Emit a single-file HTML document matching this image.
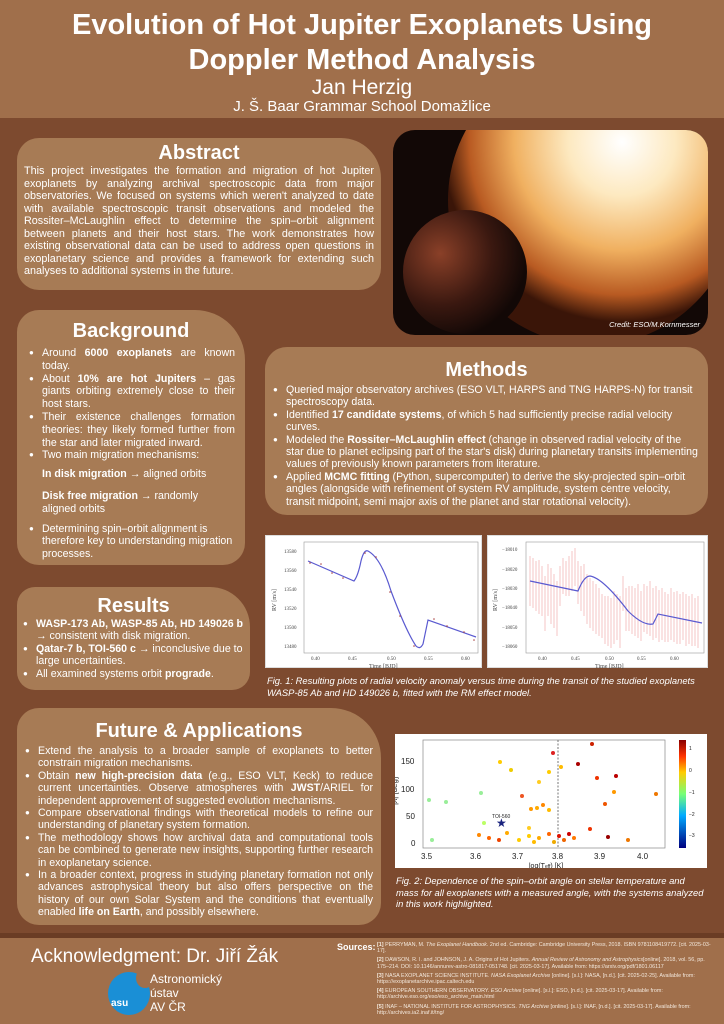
<!DOCTYPE html>
<html><head><meta charset="utf-8">
<style>
*{margin:0;padding:0;box-sizing:border-box}
body{width:724px;height:1024px;background:#7d4a2f;font-family:"Liberation Sans",sans-serif;color:#fff;position:relative;overflow:hidden}
.abs{position:absolute}
.panel{position:absolute;background:#a77b55;border-radius:22px}
h2{font-size:20px;font-weight:bold;text-align:center;color:#fff}
.txt{font-size:10.6px;line-height:12.4px;color:#fff}
ul{list-style:none}
li{position:relative;padding-left:13px}
li:before{content:"●";position:absolute;left:0;top:0;font-size:8px}
.cap{font-size:9.4px;font-style:italic;line-height:11.5px;color:#fff}
.src{font-size:5.4px;line-height:6.2px;color:#f3e8dc}
.bg{font-size:10.6px;line-height:12.8px}
</style></head><body>
<div class="abs" style="left:0;top:0;width:724px;height:118px;background:#a06f4b"></div>
<div class="abs" style="left:0;top:8px;width:724px;text-align:center;font-size:29px;font-weight:bold;line-height:35px;color:#fff">Evolution of Hot Jupiter Exoplanets Using<br>Doppler Method Analysis</div>
<div class="abs" style="left:0;top:76px;width:724px;text-align:center;font-size:21px;color:#fff">Jan Herzig</div>
<div class="abs" style="left:0;top:98px;width:724px;text-align:center;font-size:15px;color:#fff">J. Š. Baar Grammar School Domažlice</div>

<div class="panel" style="left:17px;top:138px;width:364px;height:152px;border-radius:22px 40px 22px 22px">
<h2 style="margin-top:4px">Abstract</h2>
<div class="txt" style="padding:0 7px;text-align:justify;font-size:10.8px;line-height:12.5px">This project investigates the formation and migration of hot Jupiter exoplanets by analyzing archival spectroscopic data from major observatories. We focused on systems which weren't analyzed to date with available spectroscopic transit observations and modeled the Rossiter–McLaughlin effect to determine the spin–orbit alignment between planets and their host stars. The work demonstrates how existing observational data can be used to address open questions in exoplanetary science and provides a framework for extending such analyses to additional systems in the future.</div>
</div>

<div class="abs" style="left:393px;top:130px;width:315px;height:205px;border-radius:22px;overflow:hidden;background:#120806">
<svg width="315" height="205">
<defs>
<radialGradient id="sun" cx="0.6" cy="0.3" r="0.62"><stop offset="0" stop-color="#ffffff"/><stop offset="0.3" stop-color="#fde9c0"/><stop offset="0.6" stop-color="#f0b060"/><stop offset="0.85" stop-color="#b85a22"/><stop offset="1" stop-color="#3a1508"/></radialGradient>
<radialGradient id="pl" cx="0.3" cy="0.35" r="0.7"><stop offset="0" stop-color="#8a4028"/><stop offset="0.6" stop-color="#3a1810"/><stop offset="1" stop-color="#120806"/></radialGradient>
</defs>
<circle cx="200" cy="70" r="145" fill="url(#sun)"/>
<circle cx="72" cy="142" r="62" fill="url(#pl)"/>
</svg>
<div class="abs" style="right:8px;bottom:6px;font-size:7.5px;font-style:italic;color:#fff">Credit: ESO/M.Kornmesser</div>
</div>

<div class="panel" style="left:17px;top:310px;width:228px;height:255px;border-radius:22px 50px 22px 22px">
<h2 style="margin-top:10px">Background</h2>
<ul class="txt bg" style="padding:4px 10px 0 12px;text-align:justify">
<li>Around <b>6000 exoplanets</b> are known today.</li>
<li>About <b>10% are hot Jupiters</b> – gas giants orbiting extremely close to their host stars.</li>
<li>Their existence challenges formation theories: they likely formed further from the star and later migrated inward.</li>
<li>Two main migration mechanisms:</li>
</ul>
<div class="txt bg" style="padding:6px 10px 0 25px"><b>In disk migration</b> → aligned orbits</div>
<div class="txt bg" style="padding:9px 10px 0 25px"><b>Disk free migration</b> → randomly aligned orbits</div>
<ul class="txt bg" style="padding:7px 8px 0 12px"><li>Determining spin–orbit alignment is therefore key to understanding migration processes.</li></ul>
</div>

<div class="panel" style="left:265px;top:347px;width:443px;height:168px;border-radius:22px">
<h2 style="margin-top:12px">Methods</h2>
<ul class="txt" style="padding:2px 8px 0 8px">
<li>Queried major observatory archives (ESO VLT, HARPS and TNG HARPS-N) for transit spectroscopy data.</li>
<li>Identified <b>17 candidate systems</b>, of which 5 had sufficiently precise radial velocity curves.</li>
<li>Modeled the <b>Rossiter–McLaughlin effect</b> (change in observed radial velocity of the star due to planet eclipsing part of the star's disk) during planetary transits implementing values of previously known parameters from literature.</li>
<li>Applied <b>MCMC fitting</b> (Python, supercomputer) to derive the sky-projected spin–orbit angles (alongside with refinement of system RV amplitude, system centre velocity, transit midpoint, semi major axis of the planet and star rotational velocity).</li>
</ul>
</div>

<div class="abs" style="left:265px;top:535px;width:217px;height:133px;background:#fff;border:1px solid #ddd">
<svg width="217" height="133" font-family="Liberation Serif" font-size="5">
<rect x="38" y="6" width="174" height="111" fill="none" stroke="#999" stroke-width="0.6"/>
<g fill="#444"><text x="18" y="17">13580</text><text x="18" y="36">13560</text><text x="18" y="55">13540</text><text x="18" y="74">13520</text><text x="18" y="93">13500</text><text x="18" y="112">13480</text>
<text x="45" y="124">0.40</text><text x="82" y="124">0.45</text><text x="121" y="124">0.50</text><text x="158" y="124">0.55</text><text x="195" y="124">0.60</text>
<text x="103" y="132" font-size="6">Time [BJD]</text>
<text x="10" y="75" font-size="6" transform="rotate(-90 10 75)">RV [m/s]</text></g>
<path d="M42 25 L88 45 Q92 40 95 25 Q98 13 102 15 Q115 22 125 55 Q140 95 150 110 Q154 114 157 108 L162 84 L210 101" fill="none" stroke="#5a5ad0" stroke-width="1.2"/>
<g fill="#a44"><circle cx="44" cy="27" r="0.8"/><circle cx="55" cy="28" r="0.8"/><circle cx="66" cy="37" r="0.8"/><circle cx="77" cy="42" r="0.8"/><circle cx="99" cy="17" r="0.8"/><circle cx="110" cy="21" r="0.8"/><circle cx="124" cy="56" r="0.8"/><circle cx="134" cy="80" r="0.8"/><circle cx="148" cy="110" r="0.8"/><circle cx="168" cy="83" r="0.8"/><circle cx="181" cy="90" r="0.8"/><circle cx="198" cy="96" r="0.8"/><circle cx="208" cy="104" r="0.8"/></g>
</svg></div>
<div class="abs" style="left:487px;top:535px;width:221px;height:133px;background:#fff;border:1px solid #ddd">
<svg width="221" height="133" font-family="Liberation Serif" font-size="5">
<rect x="38" y="6" width="178" height="111" fill="none" stroke="#999" stroke-width="0.6"/>
<g fill="#444"><text x="14" y="15">−18010</text><text x="14" y="35">−18020</text><text x="14" y="54">−18030</text><text x="14" y="73">−18040</text><text x="14" y="93">−18050</text><text x="14" y="112">−18060</text>
<text x="50" y="124">0.40</text><text x="83" y="124">0.45</text><text x="117" y="124">0.50</text><text x="149" y="124">0.55</text><text x="182" y="124">0.60</text>
<text x="107" y="132" font-size="6">Time [BJD]</text>
<text x="9" y="75" font-size="6" transform="rotate(-90 9 75)">RV [m/s]</text></g>
<g stroke="#f0a0a0" stroke-width="0.6">
<path d="M42 20V70M45 22V72M48 25V75M51 24V78M54 30V80M57 40V95M60 28V80M63 32V88M66 38V92M69 45V100M72 30V70M75 22V58M78 25V60M81 20V60M84 15V55M87 12V50M90 25V68M93 30V75M96 28V80M99 38V88M102 42V92M105 45V95M108 48V98M111 52V100M114 58V102M117 60V108M120 60V110M123 62V112M126 55V108M129 58V104M132 60V112M135 40V75M138 52V95M141 50V95M144 50V98M147 52V100M150 48V102M153 55V105M156 48V96M159 50V98M162 45V100M165 52V104M168 50V102M171 54V106M174 52V104M177 56V106M180 58V106M183 52V104M186 56V106M189 55V108M192 58V108M195 56V104M198 58V110M201 60V108M204 58V110M207 62V110M210 60V112"/></g>
<path d="M42 45 L90 55 Q96 40 102 40 Q115 42 140 75 Q155 90 165 88 L170 78 L214 87" fill="none" stroke="#5a5ad0" stroke-width="1.2"/>
</svg></div>
<div class="abs cap" style="left:267px;top:675px;width:440px">Fig. 1: Resulting plots of radial velocity anomaly versus time during the transit of the studied exoplanets WASP-85 Ab and HD 149026 b, fitted with the RM effect model.</div>

<div class="panel" style="left:17px;top:587px;width:233px;height:103px;border-radius:18px 40px 18px 18px">
<h2 style="margin-top:8px">Results</h2>
<ul class="txt" style="padding:0 6px">
<li><b>WASP-173 Ab, WASP-85 Ab, HD 149026 b</b> → consistent with disk migration.</li>
<li><b>Qatar-7 b, TOI-560 c</b> → inconclusive due to large uncertainties.</li>
<li>All examined systems orbit <b>prograde</b>.</li>
</ul>
</div>

<div class="panel" style="left:17px;top:708px;width:364px;height:217px;border-radius:22px 50px 22px 22px">
<h2 style="margin-top:12px">Future &amp; Applications</h2>
<ul class="txt" style="padding:2px 8px 0 8px;text-align:justify">
<li>Extend the analysis to a broader sample of exoplanets to better constrain migration mechanisms.</li>
<li>Obtain <b>new high-precision data</b> (e.g., ESO VLT, Keck) to reduce current uncertainties. Observe atmospheres with <b>JWST</b>/ARIEL for independent approvement of suggested evolution mechanisms.</li>
<li>Compare observational findings with theoretical models to refine our understanding of planetary system formation.</li>
<li>The methodology shows how archival data and computational tools can be combined to generate new insights, supporting further research in exoplanetary science.</li>
<li>In a broader context, progress in studying planetary formation not only advances astrophysical theory but also offers perspective on the history of our own Solar System and the conditions that eventually enabled <b>life on Earth</b>, and possibly elsewhere.</li>
</ul>
</div>

<div class="abs" style="left:395px;top:734px;width:312px;height:134px;background:#fff">
<svg width="312" height="134" font-family="Liberation Sans" font-size="8" fill="#222">
<defs><linearGradient id="cb" x1="0" y1="1" x2="0" y2="0"><stop offset="0" stop-color="#00007f"/><stop offset="0.3" stop-color="#0af"/><stop offset="0.5" stop-color="#7f7"/><stop offset="0.7" stop-color="#fc0"/><stop offset="0.85" stop-color="#f30"/><stop offset="1" stop-color="#800"/></linearGradient></defs>
<g transform="translate(-6,-4)">
<rect x="34" y="10" width="242" height="108" fill="none" stroke="#888" stroke-width="0.7"/>
<line x1="169" y1="10" x2="169" y2="118" stroke="#777" stroke-dasharray="2,1.5"/>
<text x="12" y="34">150</text><text x="12" y="62">100</text><text x="17" y="89">50</text><text x="22" y="116">0</text>
<text x="32" y="129">3.5</text><text x="81" y="129">3.6</text><text x="123" y="129">3.7</text><text x="163" y="129">3.8</text><text x="205" y="129">3.9</text><text x="248" y="129">4.0</text>
<text x="140" y="138" font-size="7">log(T<tspan font-size="5">eff</tspan>) [K]</text>
<text x="8" y="75" transform="rotate(-90 8 75)">|λ| [deg]</text>
<g>
<circle cx="40" cy="70" r="2" fill="#9e9"/><circle cx="57" cy="72" r="2" fill="#9e9"/><circle cx="43" cy="110" r="2" fill="#9e9"/><circle cx="92" cy="63" r="2" fill="#9e9"/><circle cx="95" cy="93" r="2" fill="#bf6"/>
<circle cx="111" cy="32" r="2" fill="#fc0"/><circle cx="122" cy="40" r="2" fill="#ec0"/><circle cx="133" cy="66" r="2" fill="#e52"/><circle cx="142" cy="79" r="2" fill="#f90"/><circle cx="150" cy="52" r="2" fill="#fc2"/><circle cx="160" cy="42" r="2" fill="#fc0"/><circle cx="164" cy="23" r="2" fill="#d22"/><circle cx="172" cy="37" r="2" fill="#fb0"/>
<circle cx="189" cy="34" r="2" fill="#a00"/><circle cx="203" cy="14" r="2" fill="#c20"/><circle cx="208" cy="48" r="2" fill="#e30"/><circle cx="227" cy="46" r="2" fill="#b00"/><circle cx="216" cy="74" r="2" fill="#e50"/><circle cx="225" cy="62" r="2" fill="#f90"/><circle cx="267" cy="64" r="2" fill="#e70"/><circle cx="201" cy="99" r="2" fill="#e30"/><circle cx="219" cy="107" r="2" fill="#900"/><circle cx="239" cy="110" r="2" fill="#e70"/>
<circle cx="148" cy="78" r="2" fill="#fa0"/><circle cx="154" cy="75" r="2" fill="#f80"/><circle cx="160" cy="80" r="2" fill="#fb0"/><circle cx="140" cy="98" r="2" fill="#fc2"/><circle cx="118" cy="103" r="2" fill="#fa0"/><circle cx="90" cy="105" r="2" fill="#f80"/><circle cx="100" cy="108" r="2" fill="#f60"/><circle cx="110" cy="110" r="2" fill="#e40"/>
<circle cx="140" cy="106" r="2" fill="#fc0"/><circle cx="150" cy="108" r="2" fill="#fa0"/><circle cx="160" cy="104" r="2" fill="#f60"/><circle cx="170" cy="106" r="2" fill="#d10"/><circle cx="175" cy="110" r="2" fill="#e60"/><circle cx="180" cy="104" r="2" fill="#c00"/><circle cx="185" cy="108" r="2" fill="#f70"/><circle cx="130" cy="110" r="2" fill="#fc0"/><circle cx="145" cy="112" r="2" fill="#fb0"/><circle cx="165" cy="112" r="2" fill="#ea0"/>
</g>
<text x="103" y="88" font-size="5">TOI-560</text>
<text x="107" y="97" font-size="12" fill="#1a237e">★</text>
<rect x="290" y="10" width="7" height="108" fill="url(#cb)"/>
<g font-size="5"><text x="300" y="20">1</text><text x="300" y="42">0</text><text x="300" y="64">−1</text><text x="300" y="86">−2</text><text x="300" y="107">−3</text></g>
</g>
</svg></div>
<div class="abs cap" style="left:396px;top:875px;width:312px">Fig. 2: Dependence of the spin–orbit angle on stellar temperature and mass for all exoplanets with a measured angle, with the systems analyzed in this work highlighted.</div>

<div class="abs" style="left:0;top:933px;width:724px;height:5px;background:#6a3c24"></div>
<div class="abs" style="left:0;top:938px;width:724px;height:86px;background:#a06f4b"></div>
<div class="abs" style="left:31px;top:946px;font-size:19px;color:#fff">Acknowledgment: Dr. Jiří Žák</div>
<div class="abs" style="left:108px;top:972px;width:42px;height:43px;border-radius:50%;background:#1a8fd6"></div>
<div class="abs" style="left:136px;top:968px;width:18px;height:20px;border-radius:50%;background:#a06f4b"></div>
<div class="abs" style="left:111px;top:998px;font-size:10px;font-weight:bold;color:#fff">asu</div>
<div class="abs" style="left:150px;top:972px;font-size:12px;line-height:14px;color:#fff">Astronomický<br>ústav<br>AV ČR</div>
<div class="abs" style="left:337px;top:942px;font-size:9px;font-weight:bold;color:#fff">Sources:</div>
<div class="abs src" style="left:377px;top:942px;width:340px">
<div><b>[1]</b> PERRYMAN, M. <i>The Exoplanet Handbook</i>. 2nd ed. Cambridge: Cambridge University Press, 2018. ISBN 9781108419772. [cit. 2025-03-17].</div>
<div style="margin-top:3px"><b>[2]</b> DAWSON, R. I. and JOHNSON, J. A. Origins of Hot Jupiters. <i>Annual Review of Astronomy and Astrophysics</i>[online]. 2018, vol. 56, pp. 175–214. DOI: 10.1146/annurev-astro-081817-051748. [cit. 2025-03-17]. Available from: https://arxiv.org/pdf/1801.06117</div>
<div style="margin-top:3px"><b>[3]</b> NASA EXOPLANET SCIENCE INSTITUTE. <i>NASA Exoplanet Archive</i> [online]. [s.l.]: NASA, [n.d.]. [cit. 2025-02-25]. Available from: https://exoplanetarchive.ipac.caltech.edu</div>
<div style="margin-top:3px"><b>[4]</b> EUROPEAN SOUTHERN OBSERVATORY. <i>ESO Archive</i> [online]. [s.l.]: ESO, [n.d.]. [cit. 2025-03-17]. Available from: http://archive.eso.org/eso/eso_archive_main.html</div>
<div style="margin-top:3px"><b>[5]</b> INAF – NATIONAL INSTITUTE FOR ASTROPHYSICS. <i>TNG Archive</i> [online]. [s.l.]: INAF, [n.d.]. [cit. 2025-03-17]. Available from: http://archives.ia2.inaf.it/tng/</div>
</div>
</body></html>
